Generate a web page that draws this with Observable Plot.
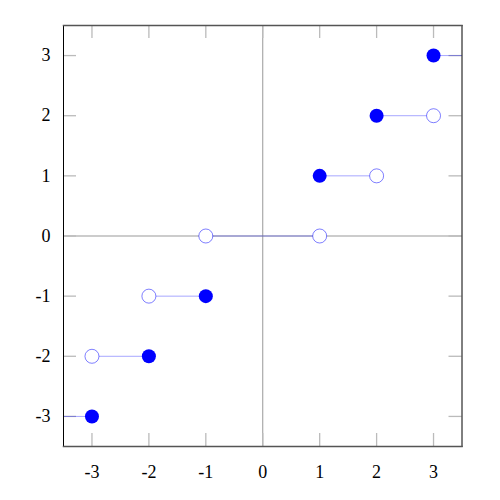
<!DOCTYPE html>
<html>
<head>
<meta charset="utf-8">
<script src="https://cdn.jsdelivr.net/npm/d3@7"></script>
<script src="https://cdn.jsdelivr.net/npm/@observablehq/plot@0.6"></script>
<style>
  html, body { margin: 0; padding: 0; background: #fff; }
  svg text { font-family: "Liberation Serif", "Times New Roman", serif !important; font-size: 18px !important; }
</style>
</head>
<body>
<div id="chart"></div>
<script>
const xTicks = [-3, -2, -1, 0, 1, 2, 3];
const yTicks = [-3, -2, -1, 0, 1, 2, 3];
const segStartX = [-3.5, -3, -2, -1, 1, 2, 3];
const segEndX   = [-3, -2, -1, 1, 2, 3, 3.5];
const segY      = [-3, -2, -1, 0, 1, 2, 3];
const filledX = [-3, -2, -1, 1, 2, 3];
const filledY = [-3, -2, -1, 1, 2, 3];
const openX = [-3, -2, -1, 1, 2, 3];
const openY = [-2, -1, 0, 0, 1, 2];

const segs = segY.map((y, i) => ({x1: segStartX[i], x2: segEndX[i], y}));
const filled = filledX.map((x, i) => ({x, y: filledY[i]}));
const open = openX.map((x, i) => ({x, y: openY[i]}));

const W = 500, H = 500;
const mL = 63, mR = 38.5, mT = 25, mB = 54;
const fw = W - mL - mR, fh = H - mT - mB;
const tl = 13;

const chart = Plot.plot({
  width: W, height: H,
  marginLeft: mL, marginRight: mR, marginTop: mT, marginBottom: mB,
  style: {fontFamily: "Liberation Serif", fontSize: "18px", background: "#fff", color: "#000"},
  x: {domain: [-3.5, 3.5], label: null},
  y: {domain: [-3.5, 3.5], label: null},
  marks: [
    Plot.ruleX([0], {stroke: "#999", strokeWidth: 1}),
    Plot.ruleY([0], {stroke: "#999", strokeWidth: 1}),
    Plot.tickX(xTicks, {x: d => d, insetTop: fh - tl, stroke: "#bbb", strokeWidth: 1.3}),
    Plot.tickX(xTicks, {x: d => d, insetBottom: fh - tl, stroke: "#bbb", strokeWidth: 1.3}),
    Plot.tickY(yTicks, {y: d => d, insetRight: fw - tl, stroke: "#bbb", strokeWidth: 1.3}),
    Plot.tickY(yTicks, {y: d => d, insetLeft: fw - tl, stroke: "#bbb", strokeWidth: 1.3}),
    Plot.axisX(xTicks, {anchor: "bottom", label: null, tickSize: 0, tickPadding: 19, tickFormat: d => String(d), fontSize: 18}),
    Plot.axisY(yTicks, {anchor: "left", label: null, tickSize: 0, tickPadding: 13, tickFormat: d => String(d), fontSize: 18}),
    Plot.link(segs, {x1: "x1", x2: "x2", y1: "y", y2: "y", stroke: "blue", strokeOpacity: 0.35, strokeWidth: 1}),
    Plot.dot(open, {x: "x", y: "y", r: 7, fill: "white", stroke: "blue", strokeOpacity: 0.5, strokeWidth: 1}),
    Plot.dot(filled, {x: "x", y: "y", r: 7, fill: "blue", stroke: "none"}),
    Plot.frame({stroke: "#000", strokeWidth: 1}),
    Plot.frame({anchor: "top", stroke: "#555", strokeWidth: 1.5}),
    Plot.frame({anchor: "bottom", stroke: "#555", strokeWidth: 1.5})
  ]
});
document.getElementById("chart").appendChild(chart);
</script>
</body>
</html>
